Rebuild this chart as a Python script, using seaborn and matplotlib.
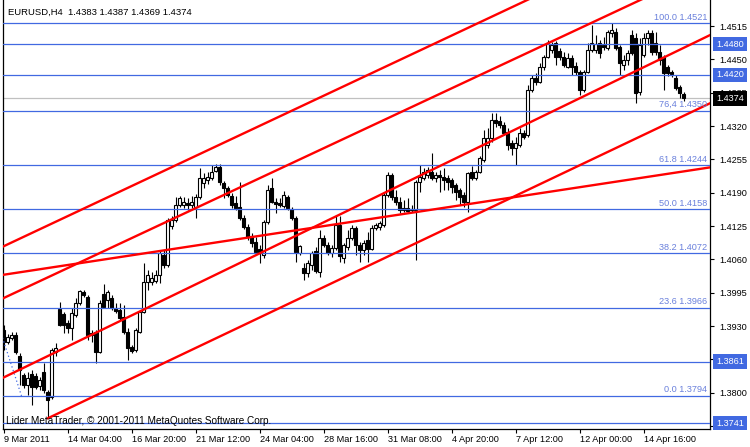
import numpy as np
import pandas as pd
import seaborn as sns
import matplotlib.pyplot as plt
import matplotlib.transforms as mtransforms

# ---------------------------------------------------------------
# data
# ---------------------------------------------------------------

opens = [1.3923, 1.3899, 1.3907, 1.3913, 1.3872, 1.3835, 1.3815, 1.3837, 1.3833, 1.3813,
         1.3841, 1.3802, 1.3792, 1.3880, 1.3963, 1.3954, 1.3936, 1.3926, 1.3952, 1.3975,
         1.3997, 1.3987, 1.3913, 1.3919, 1.3880, 1.3993, 1.3981, 1.3985, 1.3965, 1.3961,
         1.3948, 1.3919, 1.3889, 1.3884, 1.3919, 1.3958, 1.4016, 1.4016, 1.4018, 1.4030,
         1.4069, 1.4049, 1.4125, 1.4137, 1.4166, 1.4166, 1.4170, 1.4166, 1.4162, 1.4182,
         1.4209, 1.4215, 1.4219, 1.4233, 1.4240, 1.4209, 1.4199, 1.4184, 1.4170, 1.4162,
         1.4141, 1.4123, 1.4106, 1.4094, 1.4080, 1.4069, 1.4133, 1.4199, 1.4172, 1.4170,
         1.4164, 1.4182, 1.4158, 1.4141, 1.4073, 1.4043, 1.4034, 1.4050, 1.4076, 1.4036,
         1.4102, 1.4088, 1.4073, 1.4082, 1.4127, 1.4063, 1.4084, 1.4102, 1.4121, 1.4088,
         1.4079, 1.4098, 1.4080, 1.4121, 1.4123, 1.4127, 1.4186, 1.4225, 1.4182, 1.4172,
         1.4160, 1.4160, 1.4158, 1.4157, 1.4211, 1.4219, 1.4225, 1.4231, 1.4219, 1.4225,
         1.4221, 1.4219, 1.4215, 1.4205, 1.4196, 1.4186, 1.4172, 1.4231, 1.4219, 1.4231,
         1.4254, 1.4283, 1.4297, 1.4332, 1.4330, 1.4322, 1.4309, 1.4287, 1.4277, 1.4283,
         1.4307, 1.4303, 1.4391, 1.4414, 1.4406, 1.4435, 1.4455, 1.4468, 1.4482, 1.4466,
         1.4455, 1.4435, 1.4453, 1.4437, 1.4426, 1.4391, 1.4426, 1.4468, 1.4468, 1.4482,
         1.4478, 1.4472, 1.4502, 1.4504, 1.4474, 1.4439, 1.4449, 1.4498, 1.4492, 1.4387,
         1.4459, 1.4492, 1.4502, 1.4482, 1.4465, 1.4455, 1.4435, 1.4426, 1.4414, 1.4396,
         1.4383]
highs = [1.3932, 1.3915, 1.3919, 1.3919, 1.3878, 1.3839, 1.3841, 1.3845, 1.3839, 1.3831,
         1.3858, 1.3805, 1.3887, 1.3897, 1.3977, 1.3958, 1.3942, 1.3965, 1.3985, 1.4001,
         1.4001, 1.3991, 1.3923, 1.3923, 1.3980, 1.4012, 1.4001, 1.3991, 1.3975, 1.3975,
         1.3971, 1.3926, 1.3893, 1.3926, 1.3961, 1.4053, 1.4040, 1.4036, 1.4040, 1.4079,
         1.4079, 1.4141, 1.4145, 1.4182, 1.4184, 1.4182, 1.4180, 1.4184, 1.4188, 1.4238,
         1.4229, 1.4231, 1.4244, 1.4246, 1.4246, 1.4213, 1.4203, 1.4190, 1.4184, 1.4211,
         1.4147, 1.4129, 1.4112, 1.4104, 1.4088, 1.4137, 1.4205, 1.4219, 1.4180, 1.4180,
         1.4194, 1.4186, 1.4162, 1.4145, 1.4088, 1.4053, 1.4059, 1.4077, 1.4084, 1.4117,
         1.4108, 1.4094, 1.4088, 1.4147, 1.4145, 1.4092, 1.4117, 1.4127, 1.4125, 1.4094,
         1.4098, 1.4114, 1.4127, 1.4131, 1.4135, 1.4190, 1.4231, 1.4229, 1.4196, 1.4182,
         1.4176, 1.4180, 1.4166, 1.4215, 1.4244, 1.4238, 1.4240, 1.4268, 1.4231, 1.4235,
         1.4238, 1.4225, 1.4219, 1.4209, 1.4199, 1.4192, 1.4231, 1.4242, 1.4235, 1.4262,
         1.4312, 1.4316, 1.4346, 1.4346, 1.4340, 1.4328, 1.4316, 1.4293, 1.4299, 1.4316,
         1.4312, 1.4400, 1.4420, 1.4424, 1.4443, 1.4459, 1.4488, 1.4484, 1.4486, 1.4472,
         1.4465, 1.4463, 1.4459, 1.4445, 1.4429, 1.4429, 1.4482, 1.4517, 1.4498, 1.4488,
         1.4494, 1.4508, 1.4521, 1.4511, 1.4478, 1.4459, 1.4468, 1.4508, 1.4502, 1.4492,
         1.4502, 1.4508, 1.4508, 1.4504, 1.4478, 1.4459, 1.4439, 1.4429, 1.4420, 1.4400,
         1.4387]
lows = [1.3884, 1.3895, 1.3903, 1.3876, 1.3815, 1.3809, 1.3796, 1.3776, 1.3807, 1.3805,
        1.3800, 1.3750, 1.3788, 1.3872, 1.3930, 1.3917, 1.3917, 1.3903, 1.3948, 1.3971,
        1.3987, 1.3903, 1.3899, 1.3858, 1.3878, 1.3965, 1.3965, 1.3961, 1.3956, 1.3942,
        1.3915, 1.3864, 1.3878, 1.3880, 1.3917, 1.3956, 1.4001, 1.4010, 1.4014, 1.4014,
        1.4043, 1.4045, 1.4119, 1.4133, 1.4162, 1.4160, 1.4157, 1.4160, 1.4141, 1.4178,
        1.4199, 1.4207, 1.4215, 1.4231, 1.4205, 1.4180, 1.4182, 1.4160, 1.4157, 1.4137,
        1.4119, 1.4098, 1.4084, 1.4071, 1.4053, 1.4063, 1.4129, 1.4170, 1.4151, 1.4162,
        1.4160, 1.4157, 1.4137, 1.4055, 1.4069, 1.4020, 1.4026, 1.4040, 1.4034, 1.4026,
        1.4084, 1.4069, 1.4065, 1.4079, 1.4055, 1.4053, 1.4079, 1.4098, 1.4069, 1.4055,
        1.4069, 1.4055, 1.4078, 1.4117, 1.4117, 1.4123, 1.4182, 1.4176, 1.4166, 1.4151,
        1.4153, 1.4153, 1.4153, 1.4059, 1.4192, 1.4215, 1.4219, 1.4215, 1.4211, 1.4192,
        1.4196, 1.4196, 1.4190, 1.4176, 1.4166, 1.4162, 1.4153, 1.4215, 1.4215, 1.4229,
        1.4250, 1.4277, 1.4289, 1.4318, 1.4316, 1.4303, 1.4273, 1.4264, 1.4244, 1.4279,
        1.4295, 1.4299, 1.4387, 1.4400, 1.4404, 1.4429, 1.4453, 1.4463, 1.4439, 1.4449,
        1.4435, 1.4433, 1.4420, 1.4420, 1.4381, 1.4387, 1.4424, 1.4465, 1.4463, 1.4453,
        1.4468, 1.4468, 1.4494, 1.4468, 1.4420, 1.4429, 1.4439, 1.4459, 1.4365, 1.4381,
        1.4455, 1.4478, 1.4459, 1.4459, 1.4439, 1.4391, 1.4418, 1.4416, 1.4391, 1.4375,
        1.4369]
closes = [1.3899, 1.3909, 1.3913, 1.3880, 1.3845, 1.3815, 1.3829, 1.3811, 1.3811, 1.3825,
          1.3805, 1.3786, 1.3884, 1.3887, 1.3932, 1.3932, 1.3926, 1.3956, 1.3975, 1.3998,
          1.3991, 1.3913, 1.3917, 1.3880, 1.3975, 1.3967, 1.3997, 1.3965, 1.3960, 1.3946,
          1.3919, 1.3887, 1.3882, 1.3923, 1.3958, 1.4016, 1.4030, 1.4024, 1.4030, 1.4073,
          1.4049, 1.4137, 1.4137, 1.4166, 1.4180, 1.4172, 1.4166, 1.4172, 1.4182, 1.4219,
          1.4219, 1.4221, 1.4231, 1.4240, 1.4211, 1.4199, 1.4186, 1.4166, 1.4160, 1.4141,
          1.4123, 1.4104, 1.4092, 1.4075, 1.4073, 1.4133, 1.4195, 1.4172, 1.4168, 1.4166,
          1.4186, 1.4160, 1.4141, 1.4075, 1.4086, 1.4034, 1.4053, 1.4073, 1.4038, 1.4102,
          1.4088, 1.4073, 1.4082, 1.4127, 1.4067, 1.4088, 1.4102, 1.4121, 1.4088, 1.4079,
          1.4092, 1.4080, 1.4121, 1.4127, 1.4131, 1.4186, 1.4225, 1.4182, 1.4172, 1.4157,
          1.4157, 1.4155, 1.4157, 1.4211, 1.4221, 1.4231, 1.4235, 1.4219, 1.4225, 1.4221,
          1.4215, 1.4211, 1.4201, 1.4192, 1.4182, 1.4172, 1.4229, 1.4219, 1.4231, 1.4258,
          1.4297, 1.4297, 1.4332, 1.4326, 1.4322, 1.4307, 1.4283, 1.4277, 1.4287, 1.4307,
          1.4299, 1.4390, 1.4414, 1.4406, 1.4435, 1.4455, 1.4482, 1.4478, 1.4455, 1.4455,
          1.4439, 1.4453, 1.4435, 1.4426, 1.4391, 1.4426, 1.4468, 1.4482, 1.4480, 1.4463,
          1.4474, 1.4504, 1.4508, 1.4472, 1.4443, 1.4449, 1.4463, 1.4463, 1.4385, 1.4478,
          1.4492, 1.4502, 1.4465, 1.4465, 1.4449, 1.4424, 1.4424, 1.4422, 1.4394, 1.4385,
          1.4374]

# fibonacci retracement levels and their labels
fib_levels = [1.4521, 1.4350, 1.4244, 1.4158, 1.4072, 1.3966, 1.3794]
fib_labels = ['100.0 1.4521', '76,4 1.4350', '61.8 1.4244', '50.0 1.4158',
              '38.2 1.4072', '23.6 1.3966', '0.0 1.3794']
# fibo anchor line (bar, price)
fib_anchor_bar = [-26, 4.5]
fib_anchor_price = [1.4521, 1.3794]

# other horizontal lines (boxed on the price scale)
hlines = [1.4480, 1.4420, 1.3861, 1.3741]
bid_price = 1.4374

# red trend / channel lines: start and end (bar, price)
trend_x0 = [-1, -1, -1, 11, -1]
trend_p0 = [1.4082, 1.3981, 1.3826, 1.3750, 1.4029]
trend_x1 = [177, 177, 177, 177, 177]
trend_p1 = [1.4735, 1.4631, 1.4499, 1.4366, 1.4240]

price_ticks = [1.4515, 1.4450, 1.4385, 1.4320, 1.4255, 1.4190, 1.4125,
               1.4060, 1.3995, 1.3930, 1.3865, 1.3800, 1.3735]
time_ticks = [0, 16, 32, 48, 64, 80, 96, 112, 128, 144, 160]
time_labels = ['9 Mar 2011', '14 Mar 04:00', '16 Mar 20:00', '21 Mar 12:00',
               '24 Mar 04:00', '28 Mar 16:00', '31 Mar 08:00', '4 Apr 20:00',
               '7 Apr 12:00', '12 Apr 00:00', '14 Apr 16:00']

df = pd.DataFrame({'open': opens, 'high': highs, 'low': lows, 'close': closes})
df['bar'] = np.arange(len(df))

# ---------------------------------------------------------------
# drawing
# ---------------------------------------------------------------
sns.set_style("white")
plt.rcParams['font.family'] = ['Liberation Sans', 'DejaVu Sans']

BLUE = '#4169e1'
LABEL_BLUE = '#6a80dc'
FS = 6.6

fig = plt.figure(figsize=(7.5, 4.47), dpi=100)
ax = fig.add_axes([2.5 / 750, 18 / 447, 707.5 / 750, 429 / 447])

# candles
up = df['close'] >= df['open']
ax.vlines(df['bar'], df['low'], df['high'], color='black', lw=0.8, zorder=2)
ax.bar(df['bar'][up], (df['close'] - df['open'])[up], bottom=df['open'][up],
       width=0.55, color='white', edgecolor='black', lw=0.8, zorder=3)
ax.bar(df['bar'][~up], (df['open'] - df['close'])[~up], bottom=df['close'][~up],
       width=0.55, color='black', edgecolor='black', lw=0.8, zorder=3)

# horizontal lines
ax.axhline(bid_price, color='#c0c0c0', lw=0.9, zorder=1)
for lv in hlines:
    ax.axhline(lv, color=BLUE, lw=0.9, zorder=4)
for lv, lab in zip(fib_levels, fib_labels):
    ax.axhline(lv, color=BLUE, lw=0.9, zorder=4)
    ax.annotate(lab, xy=(1.0, lv), xycoords=('axes fraction', 'data'),
                xytext=(-3, 1.5), textcoords='offset pixels',
                ha='right', va='bottom', color=LABEL_BLUE, fontsize=FS, zorder=6)

ax.plot(fib_anchor_bar, fib_anchor_price, color=BLUE, lw=0.9,
        linestyle=(0, (1, 2)), zorder=4)

# red lines
for x0, p0, x1, p1 in zip(trend_x0, trend_p0, trend_x1, trend_p1):
    sns.lineplot(x=[x0, x1], y=[p0, p1], color='red', lw=1.7, ax=ax, zorder=5)

ax.set_xlim(-0.25, 176.625)
ax.set_ylim(1.37294, 1.4566)
ax.set_xlabel('')
ax.set_ylabel('')

# axes look
for side in ['left', 'right', 'bottom']:
    ax.spines[side].set_color('black')
    ax.spines[side].set_linewidth(0.9)
ax.spines['top'].set_visible(False)

ax.yaxis.tick_right()
ax.set_yticks(price_ticks)
ax.set_yticklabels([f'{t:.4f}' for t in price_ticks])
ax.tick_params(axis='y', direction='out', length=3, width=0.8, pad=4,
               labelsize=FS, colors='black', right=True, left=False)

ax.set_xticks(time_ticks)
ax.set_xticklabels(time_labels, ha='left')
ax.tick_params(axis='x', direction='out', length=3, width=0.8, pad=1.5,
               labelsize=FS, colors='black', bottom=True)

# boxed prices on the right scale
blend = mtransforms.blended_transform_factory(ax.transAxes, ax.transData)
for lv in hlines:
    ax.text(1.0085, lv, f'{lv:.4f}', transform=blend, ha='left', va='center',
            color='white', fontsize=FS, clip_on=False, zorder=10,
            bbox=dict(boxstyle='square,pad=0.3', fc=BLUE, ec='none'))
ax.text(1.0085, bid_price, f'{bid_price:.4f}', transform=blend, ha='left', va='center',
        color='white', fontsize=FS, clip_on=False, zorder=10,
        bbox=dict(boxstyle='square,pad=0.3', fc='black', ec='none'))

fig.text(7.5 / 750, 1 - 14.5 / 447, 'EURUSD,H4  1.4383 1.4387 1.4369 1.4374',
         fontsize=6.8, va='baseline', color='black')
fig.text(6.5 / 750, 1 - 424.5 / 447,
         'Lider MetaTrader, \u00a9 2001-2011 MetaQuotes Software Corp.',
         fontsize=7.2, va='baseline', color='black', zorder=10)

fig.savefig('out.png', dpi=100)
